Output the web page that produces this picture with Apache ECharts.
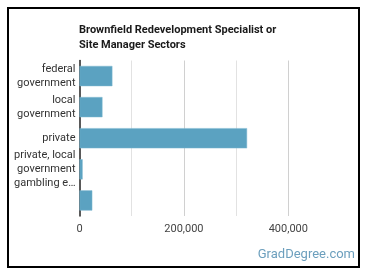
<!DOCTYPE html>
<html>
<head>
<meta charset="utf-8">
<script src="https://cdn.jsdelivr.net/npm/echarts@6/dist/echarts.min.js"></script>
<style>html,body{margin:0;padding:0;background:#fff}#c{width:370px;height:278px}</style>
</head>
<body>
<div id="c"></div>
<script>
const titleText = "Brownfield Redevelopment Specialist or\nSite Manager Sectors";
const categories = ["federal\ngovernment", "local\ngovernment", "private", "private, local\ngovernment\ngambling e\u2026", ""];
const values = [63000, 44000, 321000, 6000, 24500];
const tickLabels = {0: "0", 200000: "200,000", 400000: "400,000"};
const watermark = "GradDegree.com";

const chart = echarts.init(document.getElementById('c'), null, {renderer: 'canvas'});
chart.setOption({
  animation: false,
  backgroundColor: '#fff',
  title: {
    text: titleText, left: 79, top: 23, padding: 0,
    textStyle: {fontFamily: 'Roboto', fontSize: 11, fontWeight: 'bold', color: '#1a1a1a', lineHeight: 14.5}
  },
  graphic: [
    {type: 'rect', shape: {x: 8, y: 8, width: 351, height: 259}, style: {fill: 'none', stroke: '#000', lineWidth: 2}, z: 100},
    {type: 'text', right: 15, top: 248, style: {text: watermark, font: '13px Roboto', fill: '#6c9fbd'}}
  ],
  grid: {left: 79.5, right: 29.5, top: 60.5, bottom: 62, containLabel: false},
  xAxis: {
    type: 'value', min: 0, max: 500000, interval: 100000,
    axisLine: {show: false}, axisTick: {show: false},
    splitLine: {show: true, showMinLine: false, showMaxLine: false, lineStyle: {color: ['#e2e2e2', '#d0d0d0'], width: 1}},
    axisLabel: {
      fontFamily: 'Roboto', fontSize: 11, color: '#444', margin: 8, showMaxLabel: false,
      formatter: v => (tickLabels[v] !== undefined ? tickLabels[v] : '')
    }
  },
  yAxis: {
    type: 'category', data: categories, inverse: true,
    axisLine: {show: true, lineStyle: {color: '#222', width: 1.5}},
    axisTick: {show: false},
    axisLabel: {fontFamily: 'Roboto', fontSize: 11, color: '#333', lineHeight: 14, margin: 4}
  },
  series: [{
    type: 'bar', data: values, barCategoryGap: '35%',
    itemStyle: {color: '#5ba2c1', borderColor: '#7fb8d0', borderWidth: 0.5}
  }]
});
</script>
</body>
</html>
